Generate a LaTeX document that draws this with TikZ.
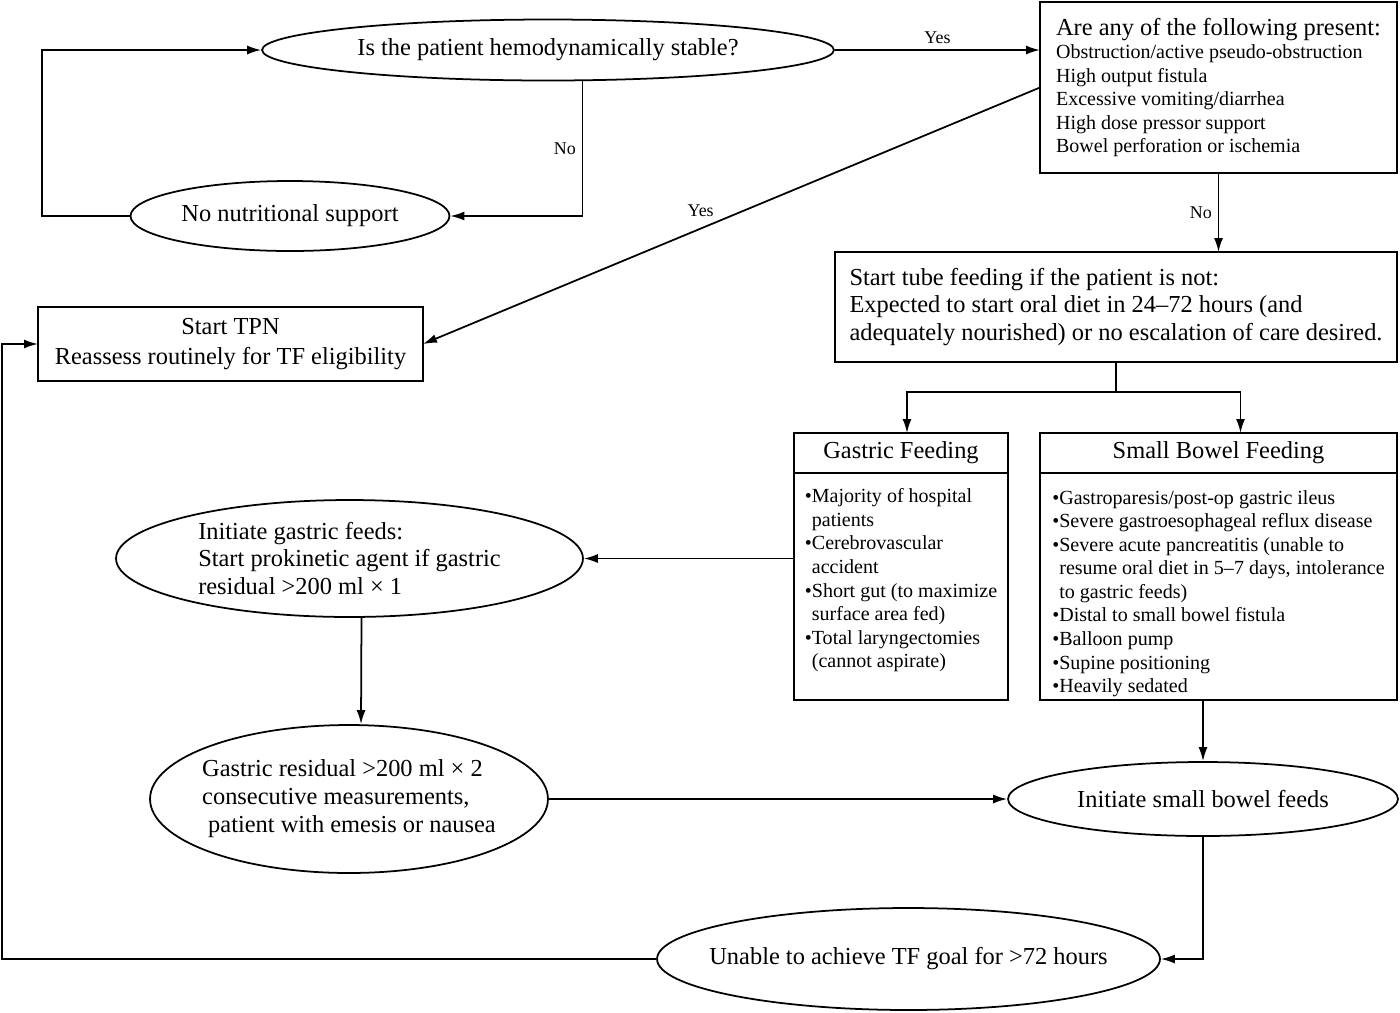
\documentclass[tikz,border=0pt]{standalone}
\usepackage{fontspec}
\setmainfont{Liberation Serif}
\usetikzlibrary{shapes.geometric, arrows.meta, positioning}
\newcommand{\bul}{\textbullet}
\newcommand{\nobul}{\phantom{\textbullet}}
\newcommand{\topgap}{\rule{0pt}{16pt}}

\begin{document}
\begin{tikzpicture}[x=0.02cm, y=-0.02cm, line width=1pt,
        e/.style={draw, ellipse, inner sep=0pt, align=left, font=\fontsize{13.9}{15.9}\selectfont},
        b/.style={draw, rectangle, outer sep=0pt, font=\fontsize{13.9}{15.9}\selectfont},
        lst/.style={b, align=left, inner xsep=0.15cm, inner ysep=0pt, font=\fontsize{11.4}{13.4}\selectfont},
        arr/.style={-{Latex[length=2.8mm, width=1.8mm]}},
        lbl/.style={font=\fontsize{10.2}{12}\selectfont}
    ]
        \useasboundingbox (0,0) rectangle (1400,1012);
        \node[e, minimum width=11.44cm, minimum height=1.22cm] (st) at (548,50) {Is the patient hemodynamically stable?};
        \node[e, minimum width=6.38cm, minimum height=1.4cm] (nn) at (290,216) {No nutritional support};
        \node[b, align=left, font=\fontsize{11.4}{13.4}\selectfont, minimum width=7.14cm, minimum height=3.42cm] (ap) at (1218.5,87.5)
            {{\fontsize{13.9}{15.9}\selectfont Are any of the following present:}\\ Obstruction/active pseudo-obstruction\\ High output fistula\\ Excessive vomiting/diarrhea\\ High dose pressor support\\ Bowel perforation or ischemia};
        \node[b, align=center, font=\fontsize{13.9}{17}\selectfont, minimum width=7.7cm, minimum height=1.48cm] (tpn) at (230.5,344) {Start TPN\\ Reassess routinely for TF eligibility};
        \node[b, align=left, minimum width=11.24cm, minimum height=2.2cm] (tf) at (1116,307)
            {Start tube feeding if the patient is not:\\ Expected to start oral diet in 24–72 hours (and\\ adequately nourished) or no escalation of care desired.};
        \node[b, minimum width=4.28cm, minimum height=0.8cm] (gh) at (901,453) {Gastric Feeding};
        \node[lst, below=0pt of gh, minimum width=4.28cm, minimum height=4.54cm] (gb)
            {\topgap\bul Majority of hospital\\ \nobul patients\\ \bul Cerebrovascular\\ \nobul accident\\ \bul Short gut (to maximize\\ \nobul surface area fed)\\ \bul Total laryngectomies\\ \nobul (cannot aspirate)\\ \strut};
        \node[b, minimum width=7.14cm, minimum height=0.8cm] (sh) at (1218.5,453) {Small Bowel Feeding};
        \node[lst, below=0pt of sh, minimum width=7.14cm, minimum height=4.54cm] (sb)
            {\topgap\bul Gastroparesis/post-op gastric ileus\\ \bul Severe gastroesophageal reflux disease\\ \bul Severe acute pancreatitis (unable to\\ \nobul resume oral diet in 5–7 days, intolerance\\ \nobul to gastric feeds)\\ \bul Distal to small bowel fistula\\ \bul Balloon pump\\ \bul Supine positioning\\ \bul Heavily sedated};
        \node[e, minimum width=9.34cm, minimum height=2.34cm] (ig) at (349.5,558.5)
            {Initiate gastric feeds:\\ Start prokinetic agent if gastric\\ residual >200 ml × 1};
        \node[e, inner xsep=-0.15cm, minimum width=7.96cm, minimum height=2.96cm] (gr) at (349,799)
            {Gastric residual >200 ml × 2\\ consecutive measurements,\\ \hspace*{0.12cm}patient with emesis or nausea};
        \node[e, minimum width=7.8cm, minimum height=1.48cm] (isb) at (1203,799) {Initiate small bowel feeds};
        \node[e, inner xsep=-0.44cm, minimum width=10.06cm, minimum height=2.04cm] (un) at (908.5,959) {Unable to achieve TF goal for >72 hours};
        \coordinate[below=0.6cm of tf.south] (split);
        \draw[arr] (st.east) -- (st.east -| ap.west) node[lbl, midway, above] {Yes};
        \draw[arr] (st.-42.6) |- (nn.east) node[lbl, pos=0.25, left] {No};
        \draw[arr] (nn.west) -- ++(-88,0) |- (st.west);
        \draw[arr] (ap.west) -- (tpn.east) node[lbl, pos=0.55, above=3pt] {Yes};
        \draw[arr] (ap.south) -- (ap.south |- tf.north) node[lbl, midway, left] {No};
        \draw (tf.south) -- (split);
        \draw[arr] (split) -| ([xshift=0.12cm]gh.north);
        \draw[arr] (split) -| ([xshift=0.44cm]sh.north);
        \draw[arr] (gb.west |- ig.east) -- (ig.east);
        \draw[arr] ([xshift=0.24cm]ig.south) -- ([xshift=0.24cm]gr.north);
        \draw[arr] (gr.east) -- (isb.west);
        \draw[arr] (isb.north |- sb.south) -- (isb.north);
        \draw[arr] (isb.south) |- (un.east);
        \draw[arr] (un.west) -- ++(-654,0) |- (tpn.west);
    \end{tikzpicture}
\end{document}
